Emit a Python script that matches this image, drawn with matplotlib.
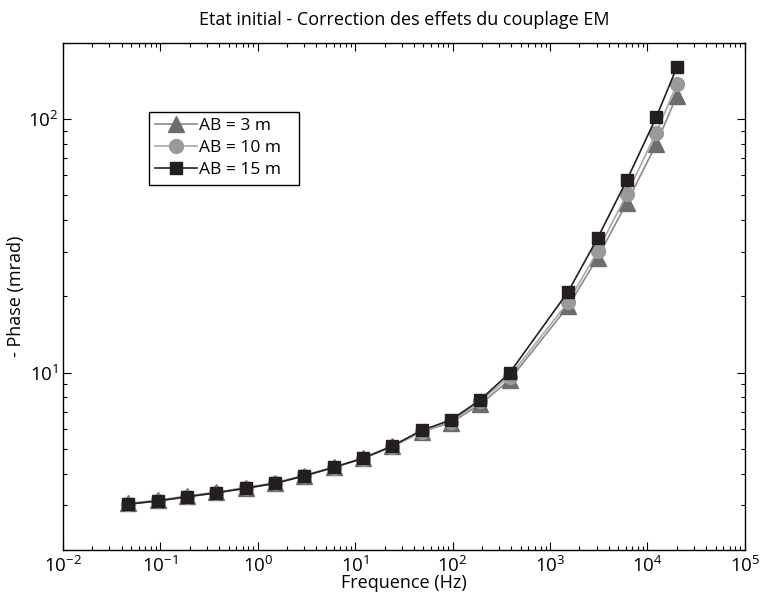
import numpy as np
import matplotlib
matplotlib.use("Agg")
import matplotlib.pyplot as plt
from matplotlib.ticker import LogLocator, NullFormatter

freq = [0.046875, 0.09375, 0.1875, 0.375, 0.75, 1.5, 3, 6, 12, 24, 48, 96, 192, 384,
        1536, 3072, 6144, 12288, 20000]
ab3 = [3.05, 3.14, 3.26, 3.38, 3.52, 3.68, 3.93, 4.24, 4.60, 5.12, 5.85, 6.35, 7.5, 9.37,
       18.3, 28.4, 46.9, 79.6, 123.6]
ab10 = [3.03, 3.12, 3.24, 3.36, 3.50, 3.66, 3.91, 4.22, 4.58, 5.10, 5.85, 6.40, 7.7, 9.66,
        19.0, 30.1, 50.6, 88.5, 137.0]
ab15 = [3.03, 3.12, 3.24, 3.36, 3.50, 3.66, 3.92, 4.23, 4.60, 5.14, 5.92, 6.51, 7.81, 9.97,
        20.9, 33.9, 57.5, 101.6, 160.0]
labels = ["AB = 3 m", "AB = 10 m", "AB = 15 m"]

plt.rcParams['font.family'] = ['Open Sans', 'DejaVu Sans']
plt.rcParams['mathtext.fontset'] = 'custom'
plt.rcParams['mathtext.rm'] = 'Open Sans'
plt.rcParams['mathtext.it'] = 'Open Sans'

fig = plt.figure(figsize=(7.61, 6.03), dpi=100)
ax = fig.add_axes([0.0828, 0.088, 0.896, 0.841])

ax.plot(freq, ab3, '-^', color='#8a8a8a', mfc='#6d6d6d', mec='#6d6d6d', ms=11, lw=1.2, label=labels[0])
ax.plot(freq, ab10, '-o', color='#a8a8a8', mfc='#9a9a9a', mec='#9a9a9a', ms=10, lw=1.2, label=labels[1])
ax.plot(freq, ab15, '-s', color='#231f20', mfc='#231f20', mec='#231f20', ms=8.5, lw=1.2, label=labels[2])

ax.set_xscale('log')
ax.set_yscale('log')
ax.set_xlim(1e-2, 1e5)
ax.set_ylim(2, 200)
ax.xaxis.set_major_locator(LogLocator(base=10, numticks=20))
ax.xaxis.set_minor_locator(LogLocator(base=10, subs=np.arange(2, 10), numticks=100))
ax.xaxis.set_minor_formatter(NullFormatter())
ax.yaxis.set_minor_formatter(NullFormatter())
ax.tick_params(which='both', direction='in', top=True, right=True, labelsize=13.5, width=0.8)
ax.tick_params(which='major', length=6)
ax.tick_params(which='minor', length=3)
ax.tick_params(axis='x', pad=4)
for s in ax.spines.values():
    s.set_linewidth(1.0)

ax.set_title("Etat initial - Correction des effets du couplage EM", fontsize=13, pad=13)
ax.set_xlabel("Frequence (Hz)", fontsize=13, labelpad=-1)
ax.set_ylabel("- Phase (mrad)", fontsize=13, labelpad=2)

leg = ax.legend(loc='upper left', bbox_to_anchor=(0.126, 0.5, 0.22, 0.364), mode='expand',
                fontsize=12.5, fancybox=False, edgecolor='black', framealpha=1, borderpad=0.35,
                handlelength=2.4, handletextpad=0.15, labelspacing=0.35, borderaxespad=0)
leg.get_frame().set_linewidth(1.0)

fig.savefig("out.png", dpi=100)
